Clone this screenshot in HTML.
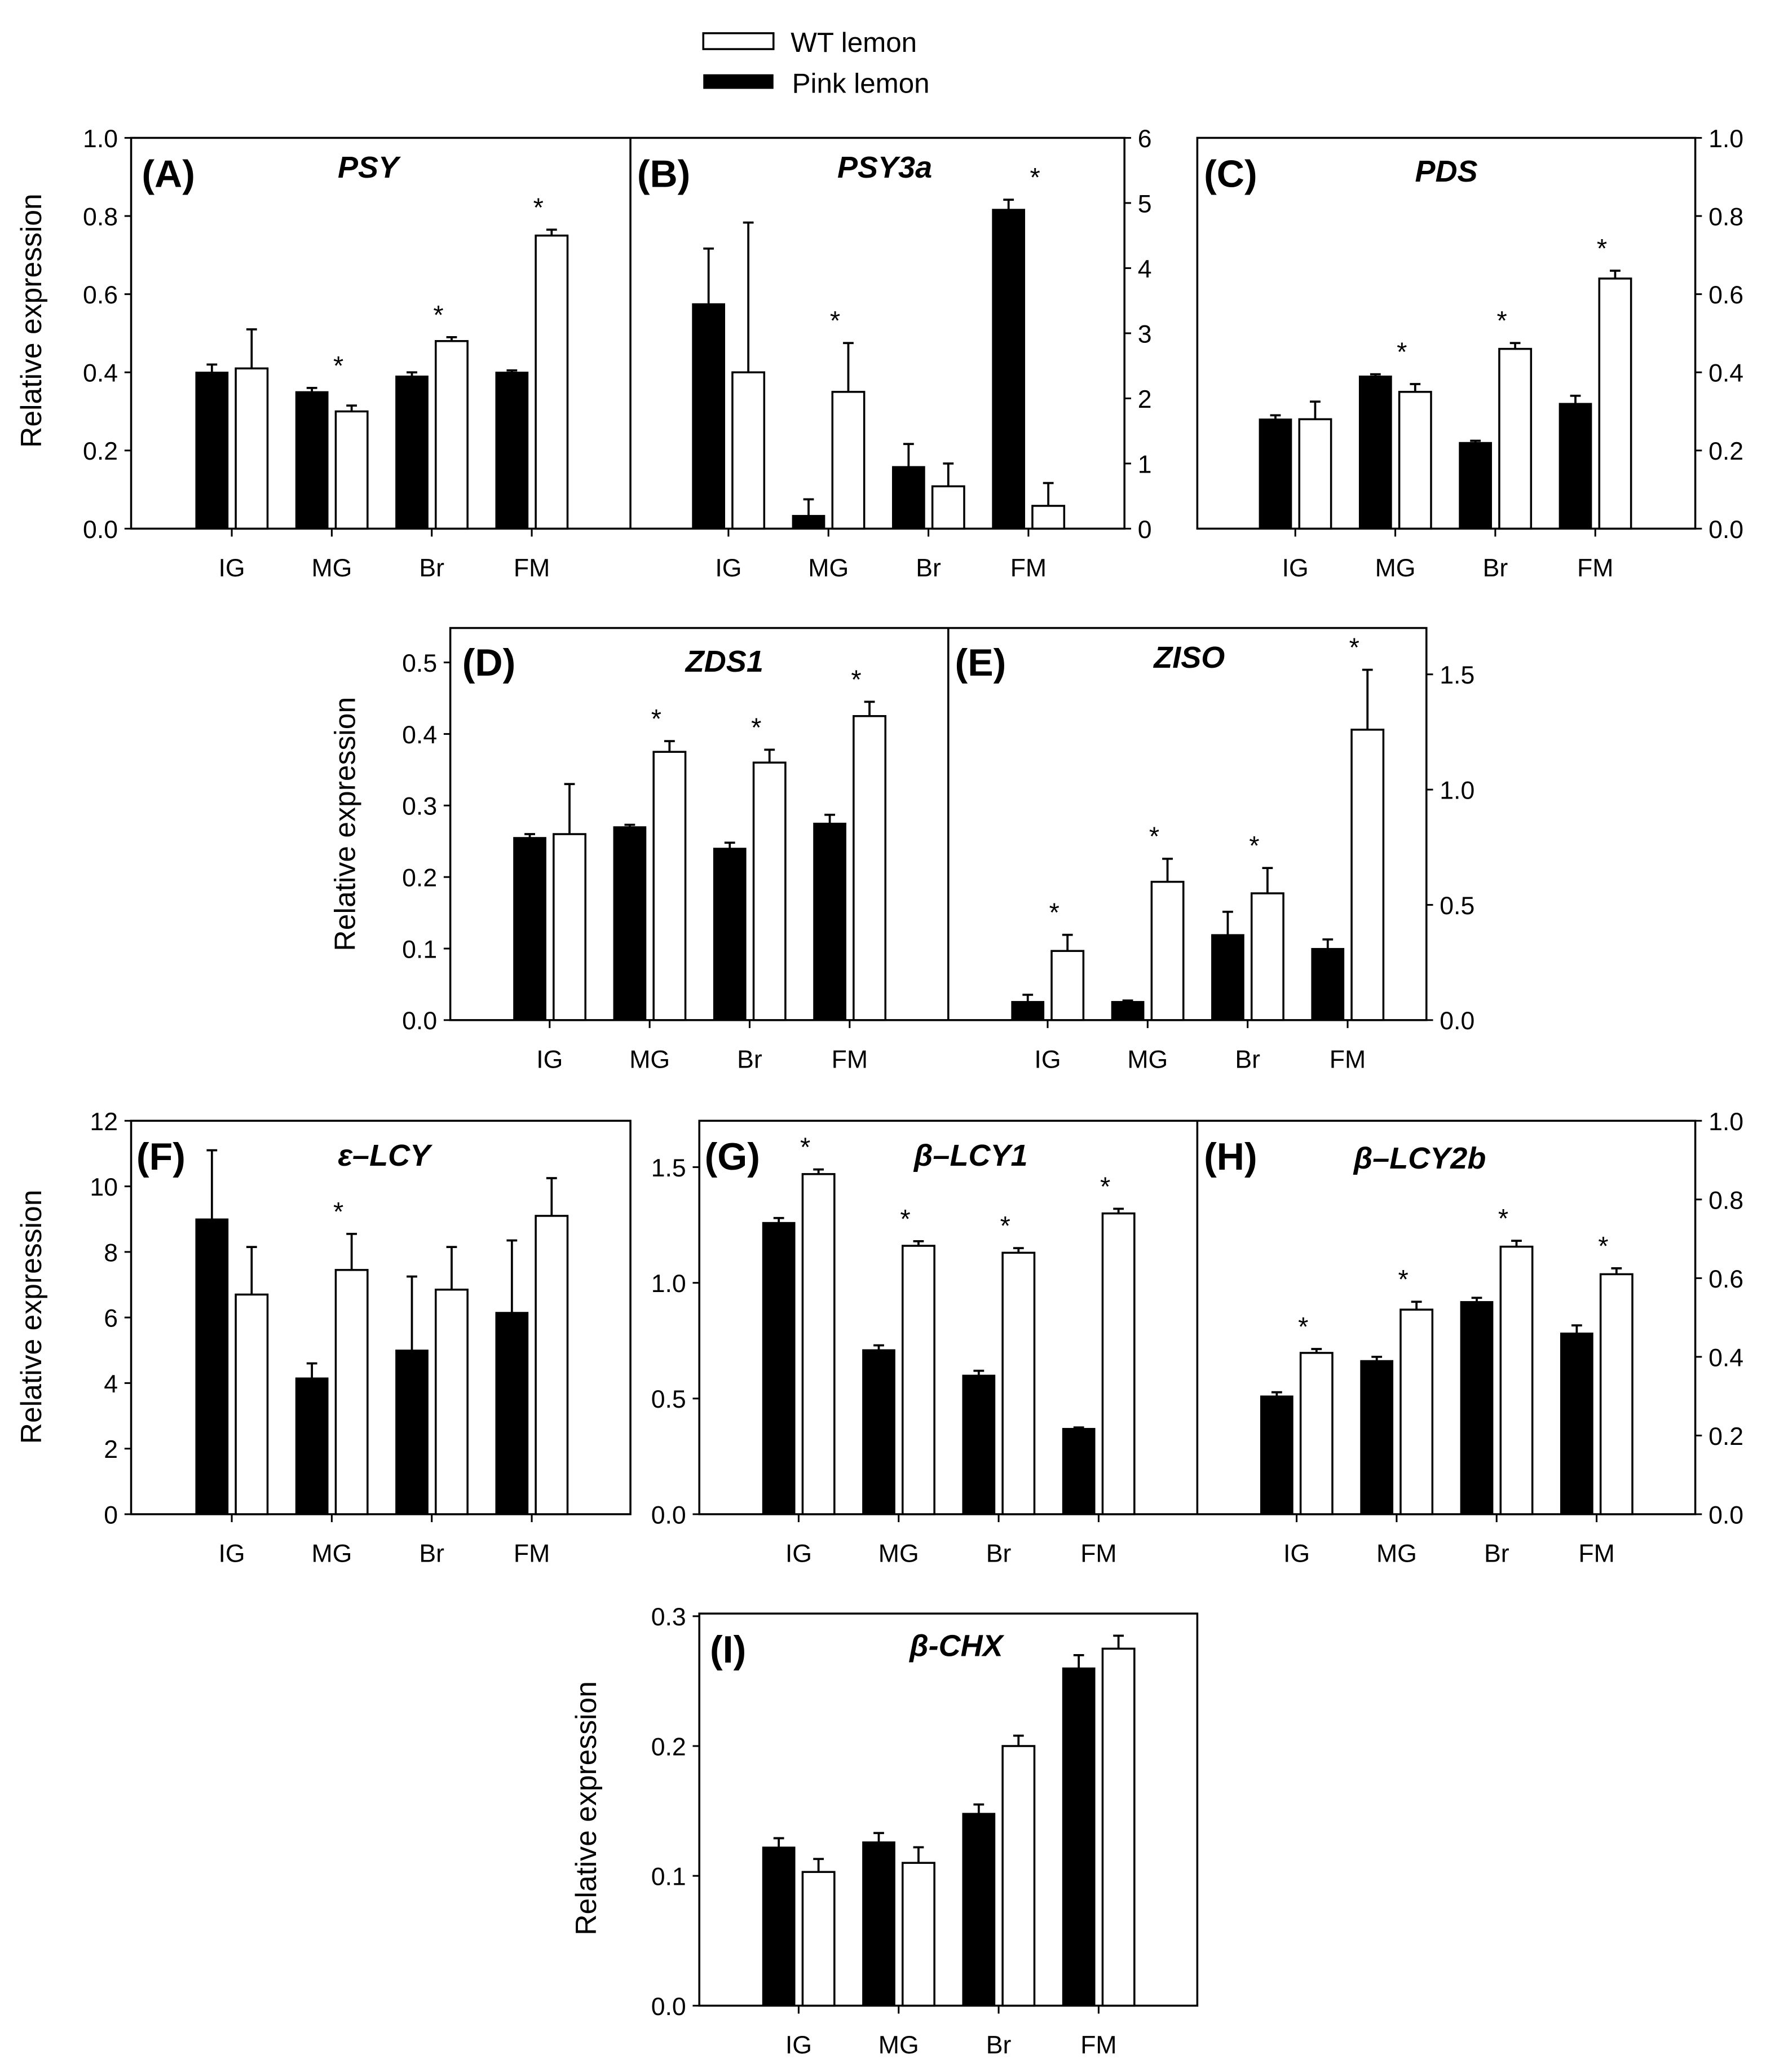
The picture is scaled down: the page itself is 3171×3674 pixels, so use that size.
<!DOCTYPE html>
<html><head><meta charset="utf-8"><style>
html,body{margin:0;padding:0;background:#fff;}
svg{display:block;}
text{font-family:"Liberation Sans",Arial,sans-serif;fill:#000;}
</style></head><body>
<svg id="fig" xmlns="http://www.w3.org/2000/svg" width="3171" height="3674" viewBox="0 0 1350 1564">
<rect x="0" y="0" width="1350" height="1564" fill="#fff"/>
<g>
 <g>
  <rect x="531" y="25" width="53" height="12" fill="#fff" stroke="#000" stroke-width="1.5"/>
  <text x="597" y="39" font-size="21">WT lemon</text>
 </g>
 <g>
  <rect x="531" y="56" width="53" height="11" fill="#000"/>
  <text x="598" y="70" font-size="21">Pink lemon</text>
 </g>
</g>
<g id="frames" fill="none" stroke="#000" stroke-width="1.5">
 <rect x="99" y="104" width="750" height="295"/>
 <line x1="476" y1="104" x2="476" y2="399"/>
 <rect x="904" y="104" width="376" height="295"/>
 <rect x="340" y="474" width="737" height="296"/>
 <line x1="716" y1="474" x2="716" y2="770"/>
 <rect x="99" y="846" width="377" height="297"/>
 <rect x="528" y="846" width="752" height="297"/>
 <line x1="904" y1="846" x2="904" y2="1143"/>
 <rect x="528" y="1218" width="376" height="296"/>
</g>
<g>
 <text font-size="22" text-anchor="middle" transform="translate(31,242) rotate(-90)">Relative expression</text>
 <text font-size="22" text-anchor="middle" transform="translate(268,622) rotate(-90)">Relative expression</text>
 <text font-size="22" text-anchor="middle" transform="translate(31,994) rotate(-90)">Relative expression</text>
 <text font-size="22" text-anchor="middle" transform="translate(450,1365) rotate(-90)">Relative expression</text>
</g>
</svg>
<script>
// Shared categories
const categories = ["IG","MG","Br","FM"];

// Panel A PSY
const aPink = [0.40,0.35,0.39,0.40];
const aPinkErr = [0.02,0.01,0.01,0.005];
const aWT = [0.41,0.30,0.48,0.75];
const aWTErr = [0.10,0.015,0.01,0.015];
const aStars = [false,true,true,true];
const aTicks = ["0.0","0.2","0.4","0.6","0.8","1.0"];
// Panel B PSY3a
const bPink = [3.45,0.2,0.95,4.9];
const bPinkErr = [0.85,0.25,0.35,0.15];
const bWT = [2.4,2.1,0.65,0.35];
const bWTErr = [2.3,0.75,0.35,0.35];
const bStars = [false,true,false,true];
const bTicks = ["0","1","2","3","4","5","6"];
// Panel C PDS
const cPink = [0.28,0.39,0.22,0.32];
const cPinkErr = [0.01,0.005,0.005,0.02];
const cWT = [0.28,0.35,0.46,0.64];
const cWTErr = [0.045,0.02,0.015,0.02];
const cStars = [false,true,true,true];
const cTicks = ["0.0","0.2","0.4","0.6","0.8","1.0"];
// Panel D ZDS1
const dPink = [0.255,0.27,0.24,0.275];
const dPinkErr = [0.005,0.003,0.008,0.012];
const dWT = [0.26,0.375,0.36,0.425];
const dWTErr = [0.07,0.015,0.018,0.02];
const dStars = [false,true,true,true];
const dTicks = ["0.0","0.1","0.2","0.3","0.4","0.5"];
// Panel E ZISO
const ePink = [0.08,0.08,0.37,0.31];
const ePinkErr = [0.03,0.005,0.10,0.04];
const eWT = [0.30,0.60,0.55,1.26];
const eWTErr = [0.07,0.10,0.11,0.26];
const eStars = [true,true,true,true];
const eTicks = ["0.0","0.5","1.0","1.5"];
// Panel F e-LCY
const fPink = [9.0,4.15,5.0,6.15];
const fPinkErr = [2.1,0.45,2.25,2.2];
const fWT = [6.7,7.45,6.85,9.1];
const fWTErr = [1.45,1.1,1.3,1.15];
const fStars = [false,true,false,false];
const fTicks = ["0","2","4","6","8","10","12"];
// Panel G b-LCY1
const gPink = [1.26,0.71,0.60,0.37];
const gPinkErr = [0.02,0.02,0.02,0.005];
const gWT = [1.47,1.16,1.13,1.30];
const gWTErr = [0.02,0.02,0.02,0.02];
const gStars = [true,true,true,true];
const gTicks = ["0.0","0.5","1.0","1.5"];
// Panel H b-LCY2b
const hPink = [0.30,0.39,0.54,0.46];
const hPinkErr = [0.01,0.01,0.01,0.02];
const hWT = [0.41,0.52,0.68,0.61];
const hWTErr = [0.01,0.02,0.015,0.015];
const hStars = [true,true,true,true];
const hTicks = ["0.0","0.2","0.4","0.6","0.8","1.0"];
// Panel I b-CHX
const iPink = [0.122,0.126,0.148,0.26];
const iPinkErr = [0.007,0.007,0.007,0.01];
const iWT = [0.103,0.11,0.20,0.275];
const iWTErr = [0.01,0.012,0.008,0.01];
const iStars = [false,false,false,false];
const iTicks = ["0.0","0.1","0.2","0.3"];

const NS = "http://www.w3.org/2000/svg";
const svg = document.getElementById("fig");
function mk(tag, attrs, parent){
  const e = document.createElementNS(NS, tag);
  for (const k in attrs) e.setAttribute(k, attrs[k]);
  (parent||svg).appendChild(e);
  return e;
}

const layouts = [
 {id:"a",letter:"(A)",gene:"PSY",pink:aPink,pe:aPinkErr,wt:aWT,we:aWTErr,stars:aStars,ticks:aTicks,
  x0:99,x1:476,y0:399,yTopVal:1.0,yTopPx:104,c0:175,side:"left",lx:107,ly:141,gx:278,gy:134},
 {id:"b",letter:"(B)",gene:"PSY3a",pink:bPink,pe:bPinkErr,wt:bWT,we:bWTErr,stars:bStars,ticks:bTicks,
  x0:476,x1:849,y0:399,yTopVal:6,yTopPx:104,c0:550,side:"right",lx:481,ly:141,gx:668,gy:134},
 {id:"c",letter:"(C)",gene:"PDS",pink:cPink,pe:cPinkErr,wt:cWT,we:cWTErr,stars:cStars,ticks:cTicks,
  x0:904,x1:1280,y0:399,yTopVal:1.0,yTopPx:104,c0:978,side:"right",lx:909,ly:141,gx:1092,gy:137},
 {id:"d",letter:"(D)",gene:"ZDS1",pink:dPink,pe:dPinkErr,wt:dWT,we:dWTErr,stars:dStars,ticks:dTicks,
  x0:340,x1:716,y0:770,yTopVal:0.5,yTopPx:500,c0:415,side:"left",lx:349,ly:510,gx:547,gy:507},
 {id:"e",letter:"(E)",gene:"ZISO",pink:ePink,pe:ePinkErr,wt:eWT,we:eWTErr,stars:eStars,ticks:eTicks,
  x0:716,x1:1077,y0:770,yTopVal:1.5,yTopPx:509,c0:791,side:"right",lx:721,ly:510,gx:898,gy:504},
 {id:"f",letter:"(F)",gene:"\u03b5\u2013LCY",pink:fPink,pe:fPinkErr,wt:fWT,we:fWTErr,stars:fStars,ticks:fTicks,
  x0:99,x1:476,y0:1143,yTopVal:12,yTopPx:846,c0:175,side:"left",lx:103,ly:883,gx:290,gy:880},
 {id:"g",letter:"(G)",gene:"\u03b2\u2013LCY1",pink:gPink,pe:gPinkErr,wt:gWT,we:gWTErr,stars:gStars,ticks:gTicks,
  x0:528,x1:904,y0:1143,yTopVal:1.5,yTopPx:881,c0:603,side:"left",lx:532,ly:883,gx:733,gy:880},
 {id:"h",letter:"(H)",gene:"\u03b2\u2013LCY2b",pink:hPink,pe:hPinkErr,wt:hWT,we:hWTErr,stars:hStars,ticks:hTicks,
  x0:904,x1:1280,y0:1143,yTopVal:1.0,yTopPx:846,c0:979,side:"right",lx:909,ly:883,gx:1072,gy:882},
 {id:"i",letter:"(I)",gene:"\u03b2-CHX",pink:iPink,pe:iPinkErr,wt:iWT,we:iWTErr,stars:iStars,ticks:iTicks,
  x0:528,x1:904,y0:1514,yTopVal:0.3,yTopPx:1220,c0:603,side:"left",lx:536,ly:1255,gx:722,gy:1250}
];

layouts.forEach(L=>{
  const g = mk("g",{});
  
  
  const yScale = v => L.y0 - (v / L.yTopVal) * (L.y0 - L.yTopPx);
  const xScale = i => L.c0 + i * 75.5;
  const n = L.ticks.length;
  L.ticks.forEach((t,k)=>{
    const v = L.yTopVal * k/(n-1);
    const y = yScale(v);
    const ax = L.side==="left" ? L.x0 : L.x1;
    const d = L.side==="left" ? -5 : 5;
    mk("line",{x1:ax,y1:y,x2:ax+d,y2:y,stroke:"#000","stroke-width":1.3},g);
    const tx = mk("text",{x: L.side==="left" ? ax-10 : ax+10, y:y+7, "font-size":19,
      "text-anchor": L.side==="left" ? "end" : "start"},g);
    tx.textContent = t;
    
    
  });
  categories.forEach((c,i)=>{
    const cx = xScale(i);
    mk("line",{x1:cx,y1:L.y0,x2:cx,y2:L.y0+6,stroke:"#000","stroke-width":1.3},g);
    const tx = mk("text",{x:cx,y:L.y0+36,"font-size":19,"text-anchor":"middle"},g);
    tx.textContent = c;
    
    
    const yp = yScale(L.pink[i]);
    const bp = mk("rect",{x:cx-27,y:yp,width:24,height:L.y0-yp,fill:"#000",stroke:"#000","stroke-width":1},g);
    
    
    const ype = yScale(L.pink[i]+L.pe[i]);
    mk("line",{x1:cx-15,y1:yp,x2:cx-15,y2:ype,stroke:"#000","stroke-width":1.6},g);
    mk("line",{x1:cx-19,y1:ype,x2:cx-11,y2:ype,stroke:"#000","stroke-width":1.6},g);
    const yw = yScale(L.wt[i]);
    const bw = mk("rect",{x:cx+3,y:yw,width:24,height:L.y0-yw,fill:"#fff",stroke:"#000","stroke-width":1.5},g);
    
    
    const ywe = yScale(L.wt[i]+L.we[i]);
    mk("line",{x1:cx+15,y1:yw,x2:cx+15,y2:ywe,stroke:"#000","stroke-width":1.6},g);
    mk("line",{x1:cx+11,y1:ywe,x2:cx+19,y2:ywe,stroke:"#000","stroke-width":1.6},g);
    if (L.stars[i]) {
      const top = Math.min(ywe, ype);
      const st = mk("text",{x:cx+5,y:top-10,"font-size":20,"text-anchor":"middle"},g);
      st.textContent = "*";
      
      
    }
  });
  const lt = mk("text",{x:L.lx,y:L.ly,"font-size":29,"font-weight":"bold"},g);
  lt.textContent = L.letter;
  
  
  const gt = mk("text",{x:L.gx,y:L.gy,"font-size":23,"font-weight":"bold","font-style":"italic","text-anchor":"middle"},g);
  gt.textContent = L.gene;
  
  
});
</script>
</body></html>
